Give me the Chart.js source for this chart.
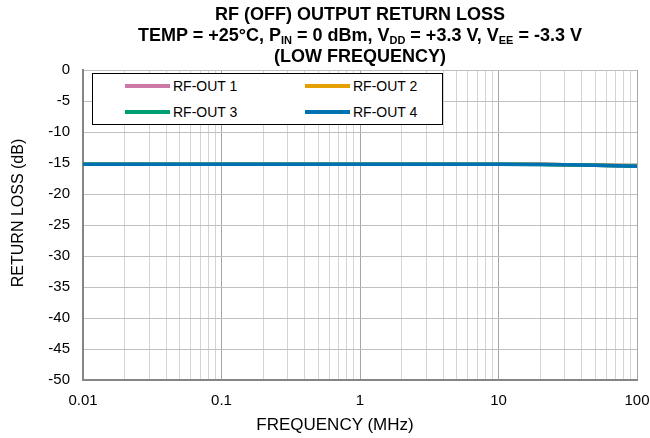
<!DOCTYPE html>
<html lang="en">
<head>
    <meta charset="UTF-8">
    <title>RF (OFF) Output Return Loss</title>
    <script src="https://cdn.jsdelivr.net/npm/chart.js"></script>
    <style>
        body { margin: 0; background: #fff; font-family: "Liberation Sans", Arial, sans-serif; }
        #wrap { position: relative; width: 650px; height: 438px; }
        #title { position: absolute; left: 83px; width: 554px; top: 4px; text-align: center;
                 font-weight: bold; font-size: 18px; line-height: 21px; color: #000; }
        #title .s { font-size: 11px; vertical-align: -3px; line-height: 0; }
        #legend { position: absolute; left: 92px; top: 73px; width: 349px; height: 50px;
                  border: 1px solid #000; background: #fff; }
        .item { position: absolute; font-size: 14px; color: #000; white-space: nowrap; }
        .item i { display: inline-block; width: 45px; height: 4px; margin-right: 3px;
                  vertical-align: middle; position: relative; top: -1px; }
        #xtitle { position: absolute; left: 235px; width: 200px; top: 415px; text-align: center;
                  font-size: 17px; line-height: 20px; color: #000; }
        #ytitle { position: absolute; left: -82px; width: 200px; top: 203px; text-align: center;
                  font-size: 16px; line-height: 20px; color: #000; transform: rotate(-90deg); }
    </style>
</head>
<body>
<div id="wrap">
    <canvas id="chart" width="650" height="438"></canvas>
    <div id="title">
        RF (OFF) OUTPUT RETURN LOSS<br>
        TEMP = +25°C, P<span class="s">IN</span> = 0 dBm, V<span class="s">DD</span> = +3.3 V, V<span class="s">EE</span> = -3.3 V<br>
        (LOW FREQUENCY)
    </div>
    <div id="legend"></div>
    <div id="xtitle">FREQUENCY (MHz)</div>
    <div id="ytitle">RETURN LOSS (dB)</div>
</div>
<script>
    // values
    const freqMHz = [0.01, 0.02, 0.05, 0.1, 0.2, 0.5, 1, 2, 5, 10, 20, 30, 50, 70, 100];
    const rfOut1 = [-15.2, -15.2, -15.2, -15.2, -15.2, -15.2, -15.2, -15.2, -15.2, -15.2, -15.22, -15.27, -15.35, -15.42, -15.5];
    const rfOut2 = [-15.2, -15.2, -15.2, -15.2, -15.2, -15.2, -15.2, -15.2, -15.2, -15.2, -15.22, -15.27, -15.35, -15.42, -15.5];
    const rfOut3 = [-15.2, -15.2, -15.2, -15.2, -15.2, -15.2, -15.2, -15.2, -15.2, -15.2, -15.23, -15.28, -15.36, -15.43, -15.52];
    const rfOut4 = [-15.2, -15.2, -15.2, -15.2, -15.2, -15.2, -15.2, -15.2, -15.2, -15.2, -15.23, -15.28, -15.37, -15.44, -15.52];

    const seriesNames = ['RF-OUT 1', 'RF-OUT 2', 'RF-OUT 3', 'RF-OUT 4'];
    const seriesColors = ['#CC79A7', '#E69F00', '#009E73', '#0072B2'];
    const seriesValues = [rfOut1, rfOut2, rfOut3, rfOut4];

    const xDecades = [0.01, 0.1, 1, 10, 100];
    const xTickLabels = ['0.01', '0.1', '1', '10', '100'];
    const yMin = -50, yMax = 0, yStep = 5;

    const FONT = '"Liberation Sans", Arial, sans-serif';

    // legend box, built from the series arrays
    const legendPos = [[32, 13], [212, 13], [32, 39], [212, 39]];
    const legend = document.getElementById('legend');
    seriesNames.forEach((name, i) => {
        const d = document.createElement('div');
        d.className = 'item';
        d.style.left = legendPos[i][0] + 'px';
        d.style.top = (legendPos[i][1] - 9) + 'px';
        d.innerHTML = '<i style="background:' + seriesColors[i] + '"></i>' + name;
        legend.appendChild(d);
    });

    const isDecade = v => xDecades.some(d => Math.abs(v / d - 1) < 1e-6);

    new Chart(document.getElementById('chart'), {
        type: 'line',
        data: {
            datasets: seriesNames.map((name, i) => ({
                label: name,
                data: freqMHz.map((f, j) => ({ x: f, y: seriesValues[i][j] })),
                borderColor: seriesColors[i],
                backgroundColor: seriesColors[i],
                borderWidth: 3.5,
                pointRadius: 0,
                tension: 0,
                order: 4 - i
            }))
        },
        options: {
            responsive: false,
            animation: false,
            layout: { padding: { top: 70, right: 13, left: 0, bottom: 0 } },
            plugins: { legend: { display: false }, tooltip: { enabled: false } },
            scales: {
                x: {
                    type: 'logarithmic',
                    min: 0.01,
                    max: 100,
                    afterBuildTicks: scale => {
                        const t = [];
                        xDecades.forEach(d => {
                            for (let k = 1; k <= 9; k++) {
                                const v = d * k;
                                if (v <= 100 * 1.0001) t.push({ value: v });
                            }
                        });
                        scale.ticks = t;
                    },
                    afterFit: scale => {
                        scale.height = 58;
                        scale.paddingLeft = 0;
                        scale.paddingRight = 0;
                    },
                    ticks: {
                        autoSkip: false,
                        maxRotation: 0,
                        padding: 12,
                        color: '#000',
                        font: { family: FONT, size: 15 },
                        callback: v => {
                            const i = xDecades.findIndex(d => Math.abs(v / d - 1) < 1e-6);
                            return i >= 0 ? xTickLabels[i] : '';
                        }
                    },
                    grid: {
                        drawTicks: false,
                        color: ctx => (ctx.tick && isDecade(ctx.tick.value)) ? '#a6a6a6' : '#d4d4d4',
                        lineWidth: 1
                    },
                    border: { color: '#868686', width: 2 }
                },
                y: {
                    min: yMin,
                    max: yMax,
                    afterFit: scale => { scale.width = 83; },
                    ticks: {
                        stepSize: yStep,
                        padding: 13,
                        color: '#000',
                        font: { family: FONT, size: 15 }
                    },
                    grid: { drawTicks: false, color: '#bfbfbf', lineWidth: 1 },
                    border: { color: '#868686', width: 2 }
                }
            }
        }
    });
</script>
</body>
</html>
